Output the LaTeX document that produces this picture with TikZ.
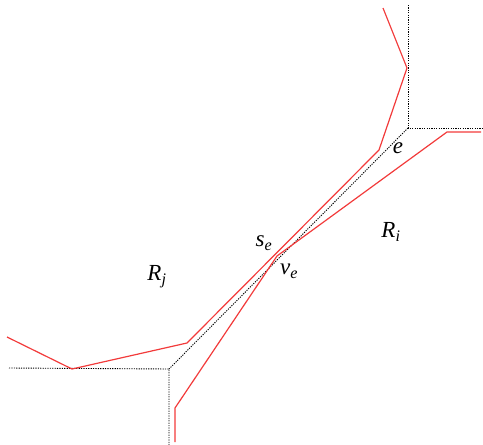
\documentclass[tikz,border=0pt]{standalone}
\usepackage{fontspec}
\setmainfont{Liberation Serif}
\usepackage{xcolor}
\definecolor{chainred}{HTML}{F23A3A}
\usepackage{tikz}
\usetikzlibrary{positioning,calc}
\tikzset{
  chain/.style={draw=chainred,line width=1.2pt,line join=miter},
  border/.style={draw=black,dash pattern=on 1.2pt off 1.2pt,line width=0.9pt},
  lbl/.style={inner sep=0pt,font=\fontsize{23}{27}\selectfont\itshape}
}
\newcommand{\sbs}[1]{\textsubscript{\itshape #1}}
\begin{document}
\begin{tikzpicture}[x=1pt,y=-1pt]
\useasboundingbox (0,0) rectangle (483,445);
% region borders
\coordinate (ctop) at (408,128);
\coordinate (cbot) at (169,369);
\draw[border] (408,5)--(ctop)--(483,128);
\draw[border] (9,368)--(cbot)--(169,445);
\draw[border] (ctop)--(cbot);
% chains
\coordinate (v) at (277,256);
\draw[chain] (383,8)--(407,68)--(379,150)--(187,343)--(72,369)--(7,337);
\draw[chain] (481,132)--(447,132)--(v)--(175,408)--(175,442);
% labels
\node[lbl] (le) at (398,148) {e};
\node[lbl] (lse) at (264,243) {s\sbs{e}};
\node[lbl] (lve) at (289,271) {v\sbs{e}};
\node[lbl] (lrj) at (157,277) {R\sbs{j}};
\node[lbl] (lri) at (391,232) {R\sbs{i}};
\end{tikzpicture}
\end{document}
